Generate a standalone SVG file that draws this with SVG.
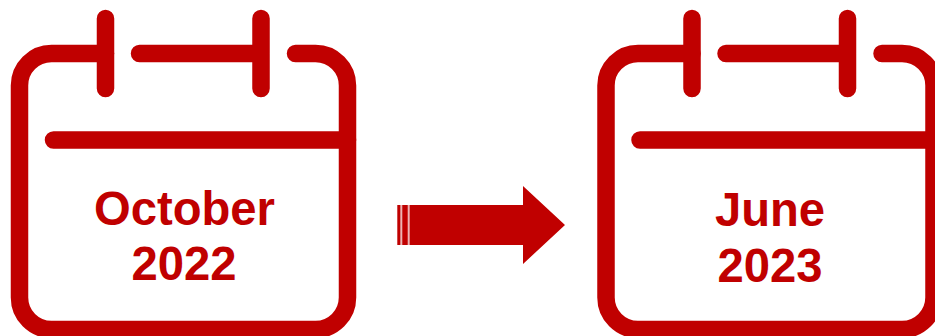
<svg xmlns="http://www.w3.org/2000/svg" width="935" height="336" viewBox="0 0 935 336">
<style>
.s{fill:none;stroke:#c00000;stroke-width:17.5;stroke-linecap:round;stroke-linejoin:round}
.t{font-family:"Liberation Sans",Arial,sans-serif;font-weight:700;font-size:47.2px;fill:#c00000;text-anchor:middle}
.f{fill:#c00000}
.g{fill:#fff;opacity:.7}
</style>
<defs>
<g id="cal">
<path class="s" d="M105.5 53.5H51.5A32 32 0 0 0 19.5 85.5V297.5A32 32 0 0 0 51.5 329.5H315.5A32 32 0 0 0 347.5 297.5V85.5A32 32 0 0 0 315.5 53.5H295.5"/>
<path class="s" d="M105.5 18.5V88.5M139.5 53.5H261M261 18.5V88.5M53.5 140H347.5"/>
</g>
</defs>
<rect width="935" height="336" fill="#fff"/>
<g id="calendar-october">
<use href="#cal"/>
<text class="t" transform="translate(184.5 225) scale(1 1.03)">October</text>
<text class="t" transform="translate(184 280) scale(1 1.03)">2022</text>
</g>
<g id="connectors">
<path class="f" d="M397.3 205H523V186L565 225L523 264V245H397.3Z"/>
<rect class="g" x="400.3" y="205" width="2" height="40"/>
<rect class="g" x="407.7" y="205" width="2" height="40"/>
</g>
<g id="calendar-june" transform="translate(586.5 0)">
<use href="#cal"/>
<text class="t" transform="translate(183.5 226) scale(1 1.03)">June</text>
<text class="t" transform="translate(183.5 282) scale(1 1.03)">2023</text>
</g>
</svg>
